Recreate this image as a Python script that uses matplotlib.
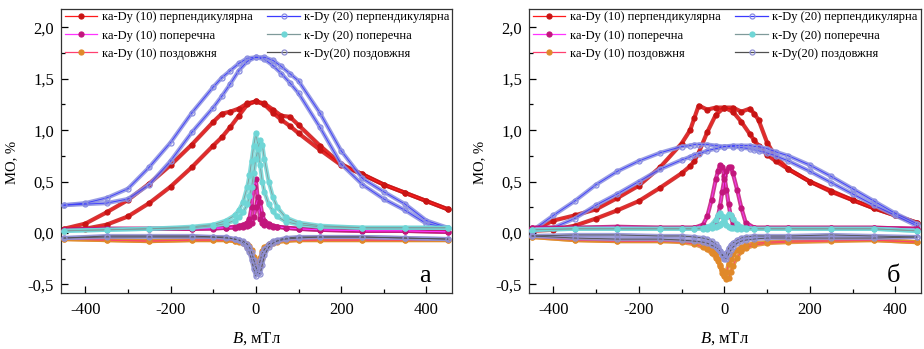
import matplotlib
matplotlib.use('Agg')
import matplotlib.pyplot as plt
from matplotlib.lines import Line2D
from matplotlib.ticker import MultipleLocator, FuncFormatter

plt.rcParams['font.family'] = ['Liberation Serif', 'DejaVu Serif']
plt.rcParams['mathtext.fontset'] = 'custom'
plt.rcParams['mathtext.it'] = 'Liberation Serif:italic'
plt.rcParams['mathtext.rm'] = 'Liberation Serif'

# ---- field grids, mT ----
X_WIDE_A = [-450, -400, -350, -300, -250, -200, -150, -100, -80, -60, -40, -20, 0,
            20, 40, 60, 80, 100, 150, 200, 250, 300, 350, 400, 450]
X_WIDE_B = [-450, -400, -350, -300, -250, -200, -150, -100, -80, -70, -60, -40, -20, 0,
            20, 40, 60, 70, 80, 100, 120, 150, 200, 250, 300, 350, 400, 450]
X_NARROW = [-450, -350, -250, -150, -100, -70, -50, -40, -30, -20, -15, -10, -5, 0,
            5, 10, 15, 20, 30, 40, 50, 70, 100, 150, 250, 350, 450]

# ---- panel a (two branches per loop) ----
A_RED_1 = [0.04, 0.09, 0.20, 0.32, 0.48, 0.66, 0.86, 1.08, 1.16, 1.18, 1.21, 1.26, 1.28,
           1.25, 1.17, 1.10, 1.04, 0.97, 0.81, 0.66, 0.57, 0.47, 0.39, 0.31, 0.23]
A_RED_2 = [0.03, 0.04, 0.08, 0.16, 0.29, 0.45, 0.64, 0.85, 0.93, 1.03, 1.14, 1.25, 1.28,
           1.26, 1.20, 1.14, 1.13, 1.05, 0.85, 0.67, 0.57, 0.47, 0.39, 0.31, 0.23]
A_BLUE_1 = [0.27, 0.29, 0.34, 0.43, 0.64, 0.88, 1.17, 1.42, 1.51, 1.58, 1.65, 1.70, 1.71,
            1.69, 1.63, 1.55, 1.46, 1.36, 1.03, 0.67, 0.47, 0.33, 0.22, 0.09, 0.05]
A_BLUE_2 = [0.27, 0.28, 0.29, 0.33, 0.47, 0.70, 0.98, 1.22, 1.33, 1.45, 1.58, 1.67, 1.71,
            1.71, 1.68, 1.62, 1.55, 1.48, 1.17, 0.80, 0.53, 0.40, 0.28, 0.12, 0.05]
A_MAG_1 = [0.03, 0.04, 0.04, 0.04, 0.05, 0.05, 0.06, 0.07, 0.08, 0.10, 0.14, 0.25, 0.45, 0.52,
           0.30, 0.14, 0.10, 0.08, 0.07, 0.06, 0.06, 0.05, 0.04, 0.03, 0.02, 0.02, 0.01]
A_MAG_2 = [0.03, 0.04, 0.04, 0.04, 0.04, 0.05, 0.05, 0.06, 0.06, 0.07, 0.08, 0.10, 0.15, 0.25,
           0.35, 0.30, 0.18, 0.12, 0.09, 0.07, 0.06, 0.05, 0.04, 0.03, 0.02, 0.02, 0.01]
A_CYAN_1 = [0.02, 0.03, 0.04, 0.06, 0.08, 0.12, 0.17, 0.22, 0.30, 0.45, 0.56, 0.70, 0.85, 0.97,
            0.85, 0.66, 0.50, 0.40, 0.28, 0.21, 0.16, 0.11, 0.08, 0.06, 0.05, 0.05, 0.05]
A_CYAN_2 = [0.02, 0.03, 0.04, 0.05, 0.07, 0.09, 0.12, 0.15, 0.20, 0.28, 0.36, 0.45, 0.58, 0.72,
            0.82, 0.90, 0.86, 0.72, 0.50, 0.35, 0.25, 0.15, 0.10, 0.07, 0.05, 0.05, 0.05]
A_ORNG_1 = [-0.06, -0.07, -0.08, -0.07, -0.07, -0.07, -0.08, -0.09, -0.10, -0.14, -0.17, -0.22,
            -0.29, -0.34, -0.30, -0.24, -0.18, -0.14, -0.11, -0.09, -0.08, -0.07, -0.07, -0.07,
            -0.07, -0.07, -0.07]
A_ORNG_2 = [-0.06, -0.07, -0.08, -0.07, -0.07, -0.07, -0.08, -0.08, -0.09, -0.11, -0.13, -0.17,
            -0.23, -0.29, -0.34, -0.32, -0.24, -0.17, -0.12, -0.10, -0.09, -0.08, -0.07, -0.07,
            -0.07, -0.07, -0.07]
A_LAV_1 = [-0.05, -0.03, -0.03, -0.03, -0.04, -0.04, -0.06, -0.07, -0.10, -0.15, -0.19, -0.26,
           -0.35, -0.42, -0.36, -0.27, -0.20, -0.16, -0.11, -0.08, -0.07, -0.05, -0.04, -0.04,
           -0.04, -0.05, -0.06]
A_LAV_2 = [-0.05, -0.04, -0.04, -0.04, -0.04, -0.05, -0.06, -0.07, -0.08, -0.11, -0.14, -0.19,
           -0.26, -0.33, -0.39, -0.40, -0.31, -0.22, -0.14, -0.10, -0.08, -0.06, -0.05, -0.04,
           -0.04, -0.05, -0.06]

# ---- panel b ----
B_RED_1 = [0.02, 0.12, 0.17, 0.23, 0.34, 0.46, 0.64, 0.87, 1.00, 1.12, 1.24, 1.20, 1.22, 1.22,
           1.22, 1.18, 1.21, 1.16, 1.10, 0.88, 0.74, 0.62, 0.50, 0.41, 0.32, 0.24, 0.17, 0.10]
B_RED_2 = [0.02, 0.03, 0.07, 0.14, 0.22, 0.31, 0.44, 0.58, 0.65, 0.70, 0.78, 0.98, 1.15, 1.22,
           1.18, 1.08, 0.96, 0.90, 0.85, 0.76, 0.70, 0.62, 0.50, 0.40, 0.32, 0.24, 0.17, 0.10]
B_BLUE_1 = [0.02, 0.17, 0.31, 0.47, 0.60, 0.70, 0.78, 0.84, 0.85, 0.86, 0.86, 0.86, 0.85, 0.84,
            0.84, 0.83, 0.82, 0.81, 0.80, 0.78, 0.75, 0.70, 0.60, 0.49, 0.38, 0.27, 0.17, 0.07]
B_BLUE_2 = [0.02, 0.05, 0.14, 0.27, 0.38, 0.50, 0.62, 0.71, 0.74, 0.76, 0.77, 0.80, 0.82, 0.84,
            0.85, 0.85, 0.85, 0.84, 0.84, 0.82, 0.79, 0.75, 0.66, 0.55, 0.43, 0.31, 0.19, 0.09]
B_MAG_1 = [0.05, 0.05, 0.06, 0.05, 0.05, 0.05, 0.08, 0.16, 0.32, 0.52, 0.60, 0.66, 0.64, 0.55,
           0.42, 0.28, 0.16, 0.09, 0.06, 0.05, 0.05, 0.05, 0.05, 0.05, 0.05, 0.05, 0.04]
B_MAG_2 = [0.05, 0.05, 0.05, 0.05, 0.05, 0.05, 0.05, 0.05, 0.06, 0.10, 0.16, 0.26, 0.40, 0.52,
           0.60, 0.64, 0.64, 0.58, 0.42, 0.24, 0.10, 0.05, 0.05, 0.05, 0.05, 0.05, 0.04]
B_CYAN_1 = [0.03, 0.04, 0.04, 0.04, 0.04, 0.04, 0.05, 0.06, 0.08, 0.13, 0.17, 0.19, 0.16, 0.11,
            0.08, 0.06, 0.05, 0.05, 0.04, 0.04, 0.04, 0.04, 0.04, 0.04, 0.04, 0.04, 0.02]
B_CYAN_2 = [0.03, 0.04, 0.04, 0.04, 0.04, 0.04, 0.04, 0.04, 0.05, 0.06, 0.07, 0.08, 0.10, 0.12,
            0.15, 0.18, 0.17, 0.14, 0.09, 0.06, 0.05, 0.04, 0.04, 0.04, 0.04, 0.04, 0.02]
B_ORNG_1 = [-0.04, -0.07, -0.08, -0.08, -0.08, -0.09, -0.10, -0.12, -0.15, -0.20, -0.25, -0.32,
            -0.39, -0.42, -0.38, -0.30, -0.25, -0.21, -0.17, -0.14, -0.12, -0.10, -0.09, -0.08,
            -0.07, -0.07, -0.09]
B_ORNG_2 = [-0.04, -0.07, -0.08, -0.08, -0.09, -0.11, -0.14, -0.16, -0.20, -0.24, -0.27, -0.31,
            -0.36, -0.41, -0.45, -0.44, -0.38, -0.32, -0.24, -0.18, -0.15, -0.12, -0.10, -0.09,
            -0.08, -0.07, -0.09]
B_LAV_1 = [-0.03, -0.02, -0.02, -0.03, -0.03, -0.04, -0.05, -0.06, -0.08, -0.11, -0.14, -0.18,
           -0.22, -0.25, -0.20, -0.15, -0.12, -0.10, -0.07, -0.05, -0.04, -0.03, -0.03, -0.03,
           -0.02, -0.03, -0.04]
B_LAV_2 = [-0.03, -0.05, -0.06, -0.06, -0.07, -0.08, -0.09, -0.10, -0.12, -0.14, -0.16, -0.18,
           -0.21, -0.24, -0.25, -0.21, -0.17, -0.14, -0.10, -0.08, -0.07, -0.06, -0.05, -0.05,
           -0.05, -0.05, -0.04]

LABELS = ['ка-Dy (10) перпендикулярна', 'к-Dy (20) перпендикулярна',
          'ка-Dy (10) поперечна', 'к-Dy (20) поперечна',
          'ка-Dy (10) поздовжня', 'к-Dy(20) поздовжня']

# line colour, marker colour, filled marker?
STYLES = [('#ff1a1a', '#c81414', True),
          ('#3a3aff', '#8a8ee0', False),
          ('#ff33ff', '#c2167c', True),
          ('#7f9a9a', '#6fd6d6', True),
          ('#ff4070', '#e0892a', True),
          ('#505050', '#8f8fd2', False)]


def draw_loop(ax, x, branches, style, z):
    lc, mc, filled = style
    for y in branches:
        ax.plot(x, y, color=mc, lw=3.0, alpha=0.85, solid_capstyle='round',
                solid_joinstyle='round', zorder=z)
        ax.plot(x, y, color=lc, lw=0.6, marker='o', ms=3.6,
                mfc=mc if filled else 'none', mec=mc, mew=0.9, zorder=z + 0.5)


def setup_axes(ax, letter):
    ax.set_xlim(-457, 460)
    ax.set_ylim(-0.585, 2.18)
    ax.xaxis.set_major_locator(MultipleLocator(200))
    ax.xaxis.set_minor_locator(MultipleLocator(100))
    ax.yaxis.set_major_locator(MultipleLocator(0.5))
    ax.yaxis.set_minor_locator(MultipleLocator(0.25))
    ax.xaxis.set_major_formatter(FuncFormatter(lambda v, p: '%d' % v))
    ax.yaxis.set_major_formatter(FuncFormatter(lambda v, p: ('%.1f' % v).replace('.', ',')))
    ax.tick_params(which='both', direction='in', top=False, right=False, labelsize=12)
    ax.tick_params(which='major', length=5, width=0.9)
    ax.tick_params(which='minor', length=3, width=0.9)
    ax.tick_params(axis='x', pad=6.5)
    ax.tick_params(axis='y', pad=5)
    for s in ax.spines.values():
        s.set_linewidth(0.9)
        s.set_color('#333333')
    ax.set_ylabel('МО, %', fontsize=10.5)
    ax.yaxis.set_label_coords(-0.11, 0.46)
    ax.set_xlabel(r'$B$, мТл', fontsize=12, labelpad=9)
    ax.text(0.93, 0.04, letter, transform=ax.transAxes, fontsize=19,
            ha='center', va='baseline')

    handles = []
    for i in [0, 2, 4, 1, 3, 5]:
        lc, mc, filled = STYLES[i]
        handles.append(Line2D([], [], color=lc, lw=0.9, marker='o', ms=3.6,
                              mfc=mc if filled else 'none', mec=mc, mew=0.9,
                              label=LABELS[i]))
    ax.legend(handles=handles, loc='upper left', bbox_to_anchor=(0.0, 1.005), ncol=2,
              frameon=False, fontsize=9, handlelength=2.6, handletextpad=0.35,
              columnspacing=1.2, labelspacing=0.5, borderpad=0.2, borderaxespad=0.1)


fig = plt.figure(figsize=(9.24, 3.49), dpi=100)
ax_a = fig.add_axes([0.066, 0.1605, 0.4232, 0.8138])
ax_b = fig.add_axes([0.5725, 0.1605, 0.4242, 0.8138])

draw_loop(ax_a, X_WIDE_A, [A_RED_1, A_RED_2], STYLES[0], 2)
draw_loop(ax_a, X_WIDE_A, [A_BLUE_1, A_BLUE_2], STYLES[1], 3)
draw_loop(ax_a, X_NARROW, [A_MAG_1, A_MAG_2], STYLES[2], 4)
draw_loop(ax_a, X_NARROW, [A_CYAN_1, A_CYAN_2], STYLES[3], 5)
draw_loop(ax_a, X_NARROW, [A_ORNG_1, A_ORNG_2], STYLES[4], 6)
draw_loop(ax_a, X_NARROW, [A_LAV_1, A_LAV_2], STYLES[5], 7)

draw_loop(ax_b, X_WIDE_B, [B_RED_1, B_RED_2], STYLES[0], 2)
draw_loop(ax_b, X_WIDE_B, [B_BLUE_1, B_BLUE_2], STYLES[1], 3)
draw_loop(ax_b, X_NARROW, [B_MAG_1, B_MAG_2], STYLES[2], 4)
draw_loop(ax_b, X_NARROW, [B_CYAN_1, B_CYAN_2], STYLES[3], 5)
draw_loop(ax_b, X_NARROW, [B_ORNG_1, B_ORNG_2], STYLES[4], 6)
draw_loop(ax_b, X_NARROW, [B_LAV_1, B_LAV_2], STYLES[5], 7)

setup_axes(ax_a, 'а')
setup_axes(ax_b, 'б')

fig.savefig('out.png', dpi=100)
